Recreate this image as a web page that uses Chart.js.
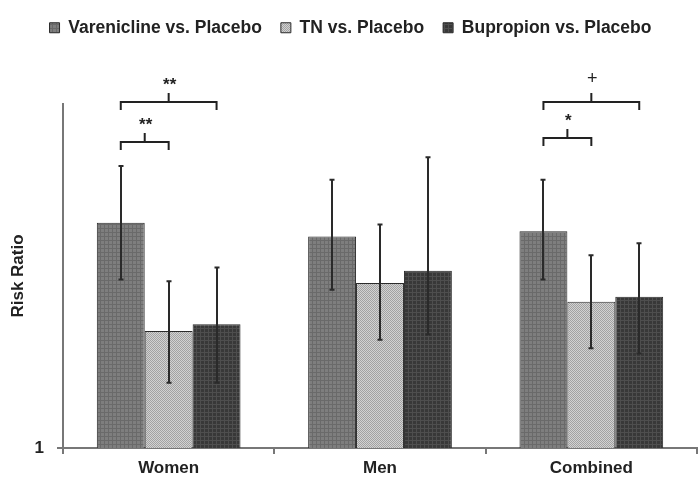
<!DOCTYPE html>
<html>
<head>
<meta charset="utf-8">
<script src="https://cdn.jsdelivr.net/npm/chart.js@4.4.1/dist/chart.umd.min.js"></script>
<style>
  body { margin: 0; background: #fff; }
  #wrap { width: 698px; height: 478px; }
</style>
</head>
<body>
<div id="wrap"><canvas id="chart" width="698" height="478"></canvas></div>
<script>
// categories and series
const groups = ['Women', 'Men', 'Combined'];
const seriesNames = ['Varenicline vs. Placebo', 'TN vs. Placebo', 'Bupropion vs. Placebo'];

// risk ratios with 95% CI
const vareniclineRR = [2.31, 2.23, 2.26];
const vareniclineLo = [1.98, 1.92, 1.98];
const vareniclineHi = [2.64, 2.56, 2.56];

const tnRR = [1.68, 1.96, 1.85];
const tnLo = [1.38, 1.63, 1.58];
const tnHi = [1.97, 2.30, 2.12];

const bupropionRR = [1.72, 2.03, 1.88];
const bupropionLo = [1.38, 1.66, 1.55];
const bupropionHi = [2.05, 2.69, 2.19];

const yTickValues = [1];
const yTickLabels = ['1'];

// significance brackets: group, from series, to series, level, label
const bracketGroup = [0, 0, 2, 2];
const bracketFrom = [0, 0, 0, 0];
const bracketTo = [2, 1, 2, 1];
const bracketLevel = [3.01, 2.78, 3.01, 2.8];
const bracketText = ['**', '**', '+', '*'];

const FONT = '"Liberation Sans", Arial, sans-serif';
const INK = '#222';
const AXIS = '#777';

function pattern(base, ink, kind) {
  const c = document.createElement('canvas');
  c.width = 4; c.height = 4;
  const g = c.getContext('2d');
  g.fillStyle = base;
  g.fillRect(0, 0, 4, 4);
  g.fillStyle = ink;
  if (kind === 'grid') {
    g.fillRect(0, 0, 4, 1);
    g.fillRect(0, 0, 1, 4);
  } else {
    g.fillRect(0, 0, 1, 1); g.fillRect(2, 0, 1, 1);
    g.fillRect(1, 1, 1, 1); g.fillRect(3, 1, 1, 1);
    g.fillRect(0, 2, 1, 1); g.fillRect(2, 2, 1, 1);
    g.fillRect(1, 3, 1, 1); g.fillRect(3, 3, 1, 1);
  }
  return c.getContext('2d').createPattern(c, 'repeat');
}

const ctx = document.getElementById('chart').getContext('2d');
const fills = [
  pattern('#7e7e7e', '#6a6a6a', 'grid'),
  pattern('#d2d2d2', '#a2a2a2', 'check'),
  pattern('#383838', '#4e4e4e', 'grid')
];
const errLo = [vareniclineLo, tnLo, bupropionLo];
const errHi = [vareniclineHi, tnHi, bupropionHi];

// push the plot area down below the legend / brackets
const legendSpace = {
  id: 'legendSpace',
  afterInit(chart) {
    const fit = chart.legend.fit;
    chart.legend.fit = function () {
      fit.call(this);
      this.height = 104;
    };
  }
};

const errorBars = {
  id: 'errorBars',
  afterDatasetsDraw(chart) {
    const c = chart.ctx;
    const y = chart.scales.y;
    c.save();
    c.strokeStyle = '#2a2a2a';
    c.lineWidth = 2;
    chart.data.datasets.forEach((ds, i) => {
      chart.getDatasetMeta(i).data.forEach((bar, j) => {
        const x = Math.round(bar.x);
        const top = y.getPixelForValue(errHi[i][j]);
        const bot = y.getPixelForValue(errLo[i][j]);
        c.beginPath();
        c.moveTo(x, top); c.lineTo(x, bot);
        c.moveTo(x - 2.5, top); c.lineTo(x + 2.5, top);
        c.moveTo(x - 2.5, bot); c.lineTo(x + 2.5, bot);
        c.stroke();
      });
    });
    c.restore();
  }
};

const brackets = {
  id: 'brackets',
  afterDraw(chart) {
    const c = chart.ctx;
    const y = chart.scales.y;
    c.save();
    c.strokeStyle = INK;
    c.fillStyle = INK;
    c.lineWidth = 2;
    c.textAlign = 'center';
    c.textBaseline = 'alphabetic';
    bracketGroup.forEach((g, k) => {
      const x1 = chart.getDatasetMeta(bracketFrom[k]).data[g].x;
      const x2 = chart.getDatasetMeta(bracketTo[k]).data[g].x;
      const yy = Math.round(y.getPixelForValue(bracketLevel[k]));
      const mid = (x1 + x2) / 2;
      c.beginPath();
      c.moveTo(x1, yy + 8); c.lineTo(x1, yy); c.lineTo(x2, yy); c.lineTo(x2, yy + 8);
      c.moveTo(mid, yy); c.lineTo(mid, yy - 9);
      c.stroke();
      if (bracketText[k] === '+') {
        c.font = '18px ' + FONT;
        c.fillText('+', mid + 1, yy - 18);
      } else {
        c.font = 'bold 17px ' + FONT;
        c.fillText(bracketText[k], mid + 1, yy - 12);
      }
    });
    c.restore();
  }
};

new Chart(ctx, {
  type: 'bar',
  data: {
    labels: groups,
    datasets: [
      { label: seriesNames[0], data: vareniclineRR, backgroundColor: fills[0] },
      { label: seriesNames[1], data: tnRR, backgroundColor: fills[1] },
      { label: seriesNames[2], data: bupropionRR, backgroundColor: fills[2] }
    ].map(d => Object.assign(d, {
      borderColor: '#2a2a2a', borderWidth: 1, borderSkipped: 'bottom',
      barPercentage: 1.0, categoryPercentage: 0.68
    }))
  },
  options: {
    responsive: false,
    animation: false,
    layout: { padding: { left: 4, right: 1, top: 0, bottom: 0 } },
    plugins: {
      legend: {
        position: 'top',
        labels: {
          boxWidth: 10, boxHeight: 10, padding: 19,
          color: INK,
          font: { family: FONT, size: 17.5, weight: 'bold' }
        }
      },
      tooltip: { enabled: false }
    },
    scales: {
      x: {
        grid: { offset: true, drawOnChartArea: false, drawTicks: true, tickLength: 6, color: AXIS, lineWidth: 2 },
        border: { color: AXIS, width: 2 },
        ticks: { color: INK, padding: 4, font: { family: FONT, size: 17, weight: 'bold' } },
        afterFit: s => { s.height = 30; }
      },
      y: {
        min: 1, max: 3,
        afterBuildTicks: s => { s.ticks = yTickValues.map(v => ({ value: v })); },
        afterFit: s => { s.width = 59; },
        grid: { drawOnChartArea: false, drawTicks: true, tickLength: 6, color: AXIS, lineWidth: 2 },
        border: { color: AXIS, width: 2 },
        ticks: {
          color: INK, padding: 13,
          font: { family: FONT, size: 17, weight: 'bold' },
          callback: (v) => yTickLabels[yTickValues.indexOf(v)]
        },
        title: {
          display: true, text: 'Risk Ratio', color: INK,
          padding: { top: 4, bottom: 0 },
          font: { family: FONT, size: 17, weight: 'bold' }
        }
      }
    }
  },
  plugins: [legendSpace, errorBars, brackets]
});
</script>
</body>
</html>
